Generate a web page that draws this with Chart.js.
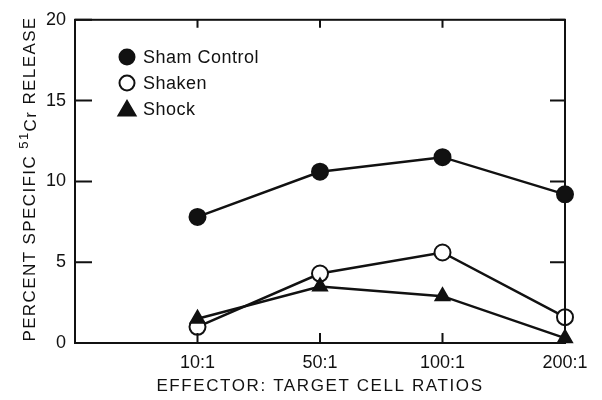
<!DOCTYPE html>
<html>
<head>
<meta charset="utf-8">
<script src="https://cdn.jsdelivr.net/npm/chart.js@4"></script>
<style>
  html, body { margin: 0; padding: 0; background: #fff; }
  #wrap { width: 602px; height: 400px; position: relative; }
</style>
</head>
<body>
<div id="wrap"><canvas id="releaseChart"></canvas></div>
<script>
// DATA
const ratios = ['10:1', '50:1', '100:1', '200:1'];
const shamControl = [7.8, 10.6, 11.5, 9.2];
const shaken = [1.0, 4.3, 5.6, 1.6];
const shock = [1.5, 3.5, 2.9, 0.3];
const yTicks = [0, 5, 10, 15, 20];

const FONT = '"Liberation Sans", Arial, sans-serif';
const INK = '#111';

function toPoints(values) {
    return values.map((v, i) => ({ x: i, y: v }));
}

// Frame, inward ticks, axis titles and legend
const framePlugin = {
    id: 'frame',
    afterDraw(chart) {
        const { ctx, chartArea: a, scales: { x, y } } = chart;
        ctx.save();
        ctx.strokeStyle = INK;
        ctx.lineWidth = 2;
        ctx.strokeRect(a.left, a.top, a.right - a.left, a.bottom - a.top);

        // left and right ticks, pointing in
        yTicks.forEach(t => {
            const py = y.getPixelForValue(t);
            ctx.beginPath();
            ctx.moveTo(a.left, py); ctx.lineTo(a.left + 17, py);
            ctx.moveTo(a.right, py); ctx.lineTo(a.right - 15, py);
            ctx.stroke();
        });
        // top and bottom ticks at categories
        ratios.forEach((r, i) => {
            const px = x.getPixelForValue(i);
            ctx.beginPath();
            ctx.moveTo(px, a.bottom); ctx.lineTo(px, a.bottom - 10);
            ctx.moveTo(px, a.top); ctx.lineTo(px, a.top + 8);
            ctx.stroke();
        });

        // x title
        ctx.fillStyle = INK;
        ctx.font = '17px ' + FONT;
        ctx.letterSpacing = '1.6px';
        ctx.textAlign = 'center';
        ctx.textBaseline = 'middle';
        ctx.fillText('EFFECTOR: TARGET CELL RATIOS', (a.left + a.right) / 2, 386);

        // y title with superscript 51
        ctx.save();
        ctx.translate(29, (20 + 338) / 2);
        ctx.rotate(-Math.PI / 2);
        ctx.letterSpacing = '1.4px';
        ctx.textAlign = 'left';
        ctx.textBaseline = 'alphabetic';
        const p1 = 'PERCENT SPECIFIC ', p2 = '51', p3 = 'Cr', p4 = ' RELEASE';
        ctx.font = '17px ' + FONT;
        const w1 = ctx.measureText(p1).width;
        const w3 = ctx.measureText(p3).width;
        const w4 = ctx.measureText(p4).width;
        ctx.font = '13px ' + FONT;
        const w2 = ctx.measureText(p2).width;
        let sx = -(w1 + w2 + w3 + w4) / 2;
        const base = 6;
        ctx.font = '17px ' + FONT;
        ctx.fillText(p1, sx, base); sx += w1;
        ctx.font = '13px ' + FONT;
        ctx.fillText(p2, sx, base - 7); sx += w2;
        ctx.font = '17px ' + FONT;
        ctx.fillText(p3, sx, base + 1); sx += w3;
        ctx.fillText(p4, sx, base);
        ctx.restore();

        // legend
        const items = [
            { label: 'Sham Control', style: 'circle', fill: INK, y: 57 },
            { label: 'Shaken', style: 'circle', fill: '#fff', y: 83 },
            { label: 'Shock', style: 'triangle', fill: INK, y: 109 }
        ];
        ctx.letterSpacing = '0.5px';
        ctx.font = '18px ' + FONT;
        ctx.textAlign = 'left';
        ctx.textBaseline = 'middle';
        items.forEach(it => {
            const cx = 127;
            ctx.beginPath();
            if (it.style === 'circle') {
                ctx.arc(cx, it.y, 7.5, 0, Math.PI * 2);
            } else {
                ctx.moveTo(cx, it.y - 8);
                ctx.lineTo(cx + 8.5, it.y + 6.5);
                ctx.lineTo(cx - 8.5, it.y + 6.5);
                ctx.closePath();
            }
            ctx.fillStyle = it.fill;
            ctx.fill();
            ctx.lineWidth = 2;
            ctx.stroke();
            ctx.fillStyle = INK;
            ctx.fillText(it.label, 143, it.y + 1);
        });
        ctx.restore();
    }
};

function lineSet(label, values, style, fill) {
    return {
        label: label,
        data: toPoints(values),
        borderColor: INK,
        borderWidth: 2.5,
        pointStyle: style,
        pointRadius: 8,
        pointHoverRadius: 8,
        pointBackgroundColor: fill,
        pointBorderColor: INK,
        pointBorderWidth: 2,
        tension: 0,
        fill: false,
        clip: false
    };
}

new Chart(document.getElementById('releaseChart'), {
    type: 'line',
    data: {
        datasets: [
            lineSet('Sham Control', shamControl, 'circle', INK),
            lineSet('Shock', shock, 'triangle', INK),
            lineSet('Shaken', shaken, 'circle', '#fff')
        ]
    },
    options: {
        responsive: true,
        maintainAspectRatio: false,
        animation: false,
        events: [],
        layout: { padding: { top: 15, right: 37, left: 0, bottom: 0 } },
        plugins: {
            legend: { display: false },
            tooltip: { enabled: false }
        },
        scales: {
            x: {
                type: 'linear',
                min: -1,
                max: 3,
                grid: { display: false, drawTicks: false },
                border: { display: false },
                afterFit: s => { s.height = 57; },
                afterBuildTicks: s => { s.ticks = ratios.map((r, i) => ({ value: i })); },
                ticks: {
                    color: INK,
                    padding: 9,
                    font: { family: FONT, size: 18 },
                    callback: v => ratios[v] ?? ''
                }
            },
            y: {
                min: 0,
                max: 20,
                grid: { display: false, drawTicks: false },
                border: { display: false },
                afterFit: s => { s.width = 75; },
                afterBuildTicks: s => { s.ticks = yTicks.map(v => ({ value: v })); },
                ticks: {
                    color: INK,
                    padding: 9,
                    font: { family: FONT, size: 18 }
                }
            }
        }
    },
    plugins: [framePlugin]
});
</script>
</body>
</html>
